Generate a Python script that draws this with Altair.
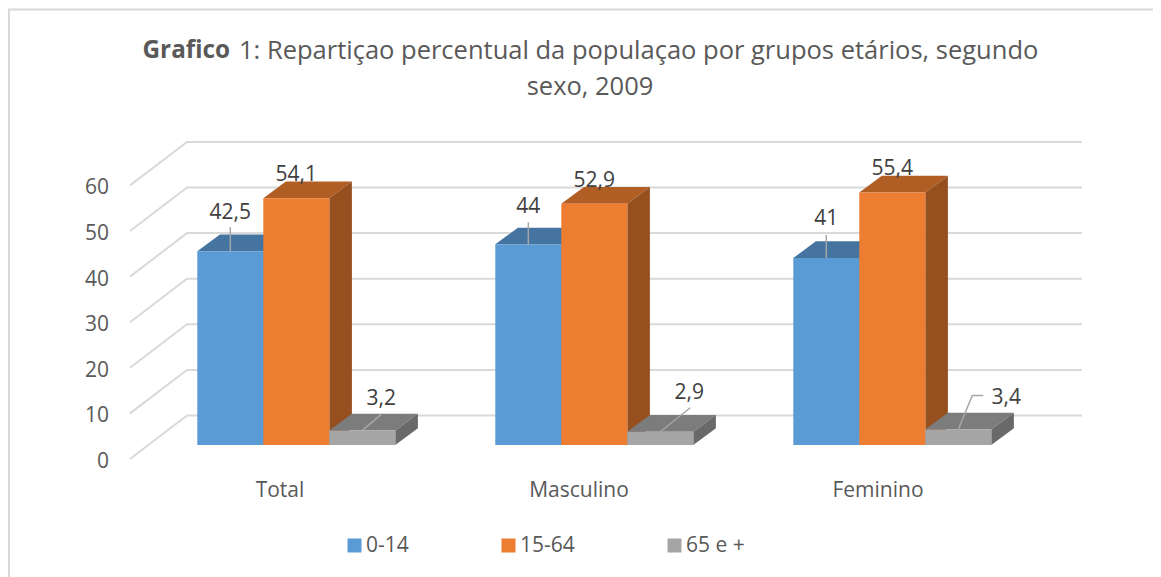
import altair as alt
import pandas as pd

# ---- values ----
categories = ["Total", "Masculino", "Feminino"]
series = ["0-14", "15-64", "65 e +"]
v_young = [42.5, 44, 41]
v_adult = [54.1, 52.9, 55.4]
v_old = [3.2, 2.9, 3.4]
y_ticks = [0, 10, 20, 30, 40, 50, 60]
title_bold = "Grafico"
title_rest = "1: Repartiçao percentual da populaçao por grupos etários, segundo"
title_line2 = "sexo, 2009"

# ---- layout ----
W, H = 1145, 569
FONT = "Open Sans"
PX = 4.56                 # px per value unit
BASE_Y = 437              # chart px of value 0 on the bars' front plane
BAR_X0, GROUP, BAR_W = 189.3, 298, 66
DX, DY = 22.6, 16.7 / PX  # bar depth
WALL_X0, WALL_X1 = 179, 1074
WALL_DY = 29.5 / PX       # back wall above bar base
FRONT_X, FRONT_DY = 122, 14 / PX
FILLS = {"0-14": ("#5B9BD5", "#44749F", "#3A6690"),
         "15-64": ("#ED7D31", "#B15E24", "#96501F"),
         "65 e +": ("#A5A5A5", "#7C7C7C", "#696969")}
GRID = "#D9D9D9"


def val(py):
    """Chart pixel row -> value units of the y scale."""
    return (BASE_Y - py) / PX


xs = alt.Scale(domain=[0, W], nice=False, zero=False)
ys = alt.Scale(domain=[val(H), val(0)], nice=False, zero=False)
X = alt.X("x:Q", scale=xs, axis=None)
Y = alt.Y("y:Q", scale=ys, axis=None)
YA = alt.Y("y:Q", scale=ys, axis=None, stack=None)
Y2 = alt.Y2("y2:Q")

all_values = [v_young, v_adult, v_old]

# grid: floor-side slants and back-wall horizontals
grid_rows = []
for t in y_ticks:
    grid_rows += [
        dict(g=t, x=FRONT_X, y=t - FRONT_DY),
        dict(g=t, x=WALL_X0, y=t + WALL_DY),
        dict(g=t, x=WALL_X1, y=t + WALL_DY),
    ]
layers = [
    alt.Chart(pd.DataFrame(grid_rows)).mark_line(color=GRID, strokeWidth=2).encode(
        x=X, y=Y, detail="g:N", order="x:Q")
]

# frame: top and left edges only
frame = pd.DataFrame([dict(x=W, y=val(1.5)), dict(x=1, y=val(1.5)), dict(x=1, y=val(H))])
frame["o"] = range(len(frame))
layers.append(alt.Chart(frame).mark_line(color=GRID, strokeWidth=2).encode(x=X, y=Y, order="o:Q"))

# 3D bars, drawn left to right
legend = alt.Legend(
    title=None, orient="none", legendX=336, legendY=527, direction="horizontal",
    columns=3, columnPadding=89, symbolType="square", symbolSize=196, symbolStrokeWidth=0,
    labelFont=FONT, labelFontSize=21, labelColor="#595959", labelOffset=1, gridAlign="none",
)
color = alt.Color("series:N", scale=alt.Scale(domain=series, range=[FILLS[s][0] for s in series]), legend=legend)
for si, s in enumerate(series):
    front, top, side = [], [], []
    for ci, c in enumerate(categories):
        v = all_values[si][ci]
        x0 = BAR_X0 + ci * GROUP + si * BAR_W
        x1 = x0 + BAR_W
        front.append(dict(x=x0, x2=x1, y=0, y2=v, series=s))
        top += [
            dict(b=ci, x=x0, y=v, y2=v),
            dict(b=ci, x=x0 + DX, y=v, y2=v + DY),
            dict(b=ci, x=x1, y=v, y2=v + DY),
            dict(b=ci, x=x1 + DX, y=v + DY, y2=v + DY),
        ]
        side += [
            dict(b=ci, x=x1, y=0, y2=v),
            dict(b=ci, x=x1 + DX, y=DY, y2=v + DY),
        ]
    layers.append(alt.Chart(pd.DataFrame(top)).mark_area(color=FILLS[s][1]).encode(
        x=X, y=YA, y2=Y2, detail="b:N"))
    layers.append(alt.Chart(pd.DataFrame(side)).mark_area(color=FILLS[s][2]).encode(
        x=X, y=YA, y2=Y2, detail="b:N"))
    layers.append(alt.Chart(pd.DataFrame(front)).mark_rect().encode(
        x=X, x2="x2:Q", y=Y, y2=Y2, color=color))

# leader lines: offsets in px from each bar's top-front centre
leaders = {
    (0, 0): [(0, 0), (0, -24)], (0, 1): [(0, 0), (0, -22)], (0, 2): [(0, 0), (0, -23)],
    (2, 0): [(0, 0), (19, -16)], (2, 1): [(0, 0), (30, -24)], (2, 2): [(0, 0), (14, -34), (25, -34)],
}
lead_rows = []
for (si, ci), pts in leaders.items():
    v = all_values[si][ci]
    cx = BAR_X0 + ci * GROUP + si * BAR_W + BAR_W / 2
    for k, (dx, dy) in enumerate(pts):
        lead_rows.append(dict(b=f"{si}-{ci}", k=k, x=cx + dx, y=v - dy / PX))
layers.append(alt.Chart(pd.DataFrame(lead_rows)).mark_line(color="#A6A6A6", strokeWidth=1.5).encode(
    x=X, y=Y, detail="b:N", order="k:Q"))

# data labels: offsets in px from each bar's top-front centre
label_dx = [[0, 0, 0], [0, 0, 0], [19, 29, 48]]
label_dy = [[-38, -37, -39], [-23, -23, -23], [-31, -39, -31]]
rows = []
for si in range(3):
    for ci in range(3):
        v = all_values[si][ci]
        cx = BAR_X0 + ci * GROUP + si * BAR_W + BAR_W / 2
        rows.append(dict(x=cx + label_dx[si][ci], y=v - label_dy[si][ci] / PX,
                         t=str(v).replace(".", ",")))
layers.append(alt.Chart(pd.DataFrame(rows)).mark_text(
    font=FONT, fontSize=21, color="#404040", baseline="middle", align="center").encode(
    x=X, y=Y, text="t:N"))

# value axis labels, sitting at the front ends of the slants
ytxt = pd.DataFrame([dict(x=101, y=t - FRONT_DY - 3 / PX, t=str(t)) for t in y_ticks])
layers.append(alt.Chart(ytxt).mark_text(
    font=FONT, fontSize=21, color="#595959", baseline="middle", align="right").encode(
    x=X, y=Y, text="t:N"))

# category labels
ctxt = pd.DataFrame([dict(x=272 + i * 299, y=val(483), t=c) for i, c in enumerate(categories)])
layers.append(alt.Chart(ctxt).mark_text(
    font=FONT, fontSize=21, color="#595959", baseline="middle", align="center").encode(
    x=X, y=Y, text="t:N"))

# title: bold run, regular run, second line
t1 = pd.DataFrame([dict(x=134.5, y=val(43), t=title_bold)])
t2 = pd.DataFrame([dict(x=231, y=val(43), t=title_rest)])
t3 = pd.DataFrame([dict(x=582, y=val(79), t=title_line2)])
for df, weight, al, size in [(t1, "bold", "left", 24.3), (t2, "normal", "left", 25.5), (t3, "normal", "center", 25.5)]:
    layers.append(alt.Chart(df).mark_text(
        font=FONT, fontSize=size, fontWeight=weight, color="#595959", baseline="middle", align=al).encode(
        x=X, y=Y, text="t:N"))

chart = alt.layer(*layers).properties(
    width=W, height=H, padding=0, autosize=alt.AutoSizeParams(type="none"),
    background="white",
).configure_view(stroke=None)

chart.save("out.html", embed_options={"renderer": "svg", "actions": False})
